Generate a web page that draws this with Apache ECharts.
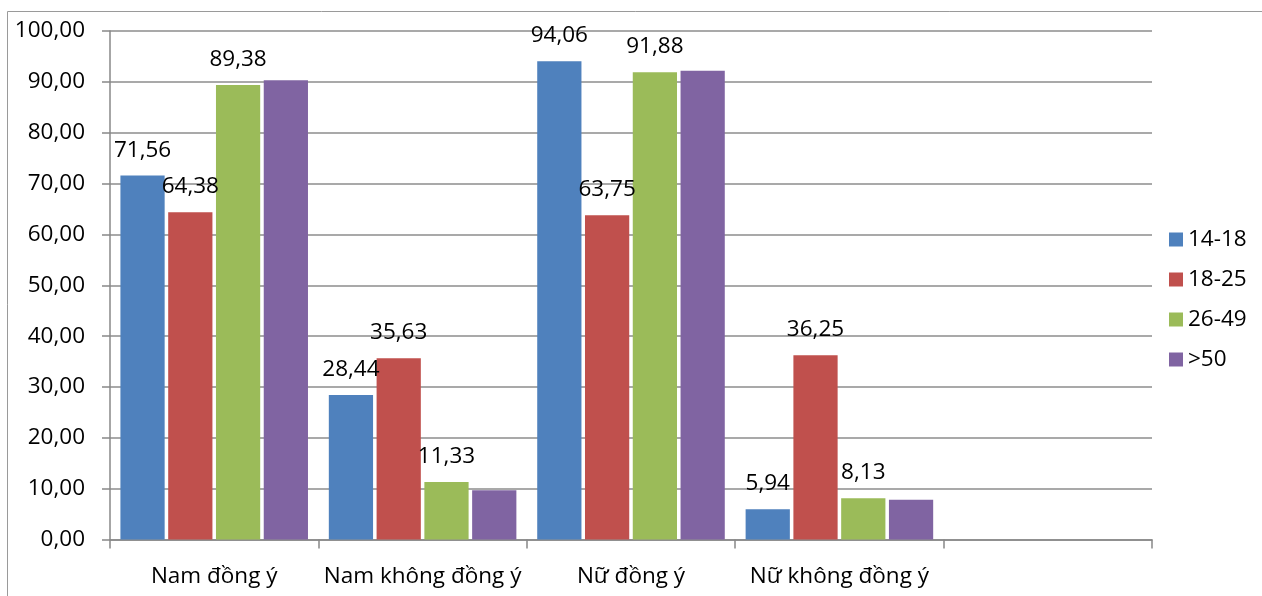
<!DOCTYPE html>
<html>
<head>
<meta charset="utf-8">
<script src="https://cdn.jsdelivr.net/npm/echarts@6/dist/echarts.min.js"></script>
<style>
html,body{margin:0;padding:0;background:#fff;}
#chart{width:1262px;height:596px;}
</style>
</head>
<body>
<div id="chart"></div>
<script>
const categories = ['Nam đồng ý', 'Nam không đồng ý', 'Nữ đồng ý', 'Nữ không đồng ý', ''];
const seriesNames = ['14-18', '18-25', '26-49', '>50'];
const age14_18 = [71.56, 28.44, 94.06, 5.94, null];
const age18_25 = [64.38, 35.63, 63.75, 36.25, null];
const age26_49 = [89.38, 11.33, 91.88, 8.13, null];
const age50 = [90.31, 9.69, 92.19, 7.81, null];
const yTicks = { min: 0, max: 100, interval: 10 };

const colors = ['#4F81BD', '#C0504D', '#9BBB59', '#8064A2'];
const FONT = '"Open Sans", "DejaVu Sans", sans-serif';
const FS = 22.5;
const fmt = v => Number(v).toFixed(2).replace('.', ',');

function mk(name, data, color, showLabel) {
  return {
    name: name,
    type: 'bar',
    data: data,
    itemStyle: { color: color },
    barGap: '8%',
    barCategoryGap: '10%',
    label: {
      show: showLabel,
      position: 'top',
      distance: 14,
      fontFamily: FONT,
      fontSize: FS,
      color: '#000',
      formatter: p => fmt(p.value)
    }
  };
}

const chart = echarts.init(document.getElementById('chart'), null, { renderer: 'canvas' });
chart.setOption({
  animation: false,
  backgroundColor: '#fff',
  textStyle: { fontFamily: FONT },
  grid: { left: 110, right: 110, top: 31, bottom: 56.5, containLabel: false },
  graphic: [{
    type: 'rect',
    shape: { x: 7.5, y: 11.5, width: 2000, height: 2000 },
    style: { fill: 'none', stroke: '#9a9a9a', lineWidth: 1 },
    silent: true,
    z: -1
  }],
  legend: {
    orient: 'vertical',
    left: 1169,
    top: 228,
    padding: 0,
    itemWidth: 14,
    itemHeight: 14,
    itemGap: 17,
    icon: 'rect',
    data: seriesNames,
    textStyle: { fontFamily: FONT, fontSize: FS, color: '#000' }
  },
  xAxis: {
    type: 'category',
    data: categories,
    axisLine: { show: true, lineStyle: { color: '#888', width: 1.5 } },
    axisTick: { show: true, alignWithLabel: false, interval: 0, length: 9, lineStyle: { color: '#888', width: 1.5 } },
    axisLabel: { interval: 0, margin: 26, fontFamily: FONT, fontSize: FS, color: '#000' },
    splitLine: { show: false }
  },
  yAxis: {
    type: 'value',
    min: yTicks.min,
    max: yTicks.max,
    interval: yTicks.interval,
    axisLine: { show: true, lineStyle: { color: '#888', width: 1.5 } },
    axisTick: { show: true, length: 8, lineStyle: { color: '#888', width: 1.5 } },
    axisLabel: { margin: 25, fontFamily: FONT, fontSize: FS, color: '#000', formatter: v => fmt(v) },
    splitLine: { show: true, lineStyle: { color: '#8c8c8c', width: 1.5 } }
  },
  series: [
    mk(seriesNames[0], age14_18, colors[0], true),
    mk(seriesNames[1], age18_25, colors[1], true),
    mk(seriesNames[2], age26_49, colors[2], true),
    mk(seriesNames[3], age50, colors[3], false)
  ]
});
</script>
</body>
</html>
